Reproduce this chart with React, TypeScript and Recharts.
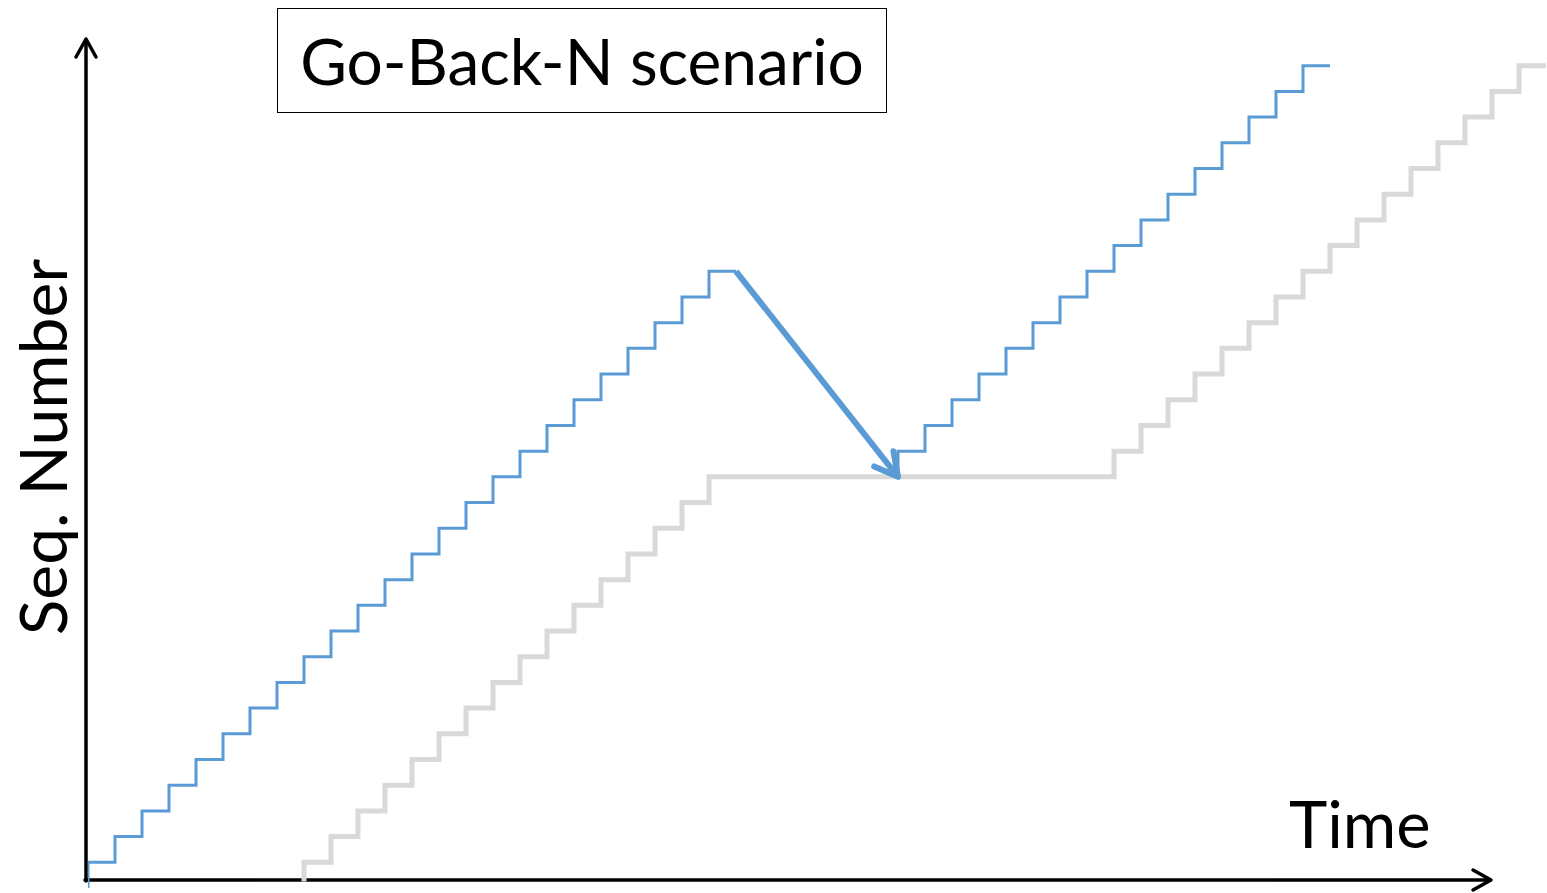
import React from "react";
import { LineChart, Line, XAxis, YAxis } from "recharts";

// time slots (x) and sequence numbers (y)
const senderTimes1 = [0, 1, 2, 3, 4, 5, 6, 7, 8, 9, 10, 11, 12, 13, 14, 15, 16, 17, 18, 19, 20, 21, 22, 23, 24];
const senderSeq1 = [-1, 0, 1, 2, 3, 4, 5, 6, 7, 8, 9, 10, 11, 12, 13, 14, 15, 16, 17, 18, 19, 20, 21, 22, 23];

const timeoutTimes = [24, 30];
const timeoutSeq = [23, 15];

const senderTimes2 = [30, 31, 32, 33, 34, 35, 36, 37, 38, 39, 40, 41, 42, 43, 44, 45, 46];
const senderSeq2 = [15, 16, 17, 18, 19, 20, 21, 22, 23, 24, 25, 26, 27, 28, 29, 30, 31];

const ackTimes = [8, 9, 10, 11, 12, 13, 14, 15, 16, 17, 18, 19, 20, 21, 22, 23, 24, 38, 39, 40, 41, 42, 43, 44, 45, 46, 47, 48, 49, 50, 51, 52, 53, 54];
const ackSeq = [-0.75, 0, 1, 2, 3, 4, 5, 6, 7, 8, 9, 10, 11, 12, 13, 14, 15, 15, 16, 17, 18, 19, 20, 21, 22, 23, 24, 25, 26, 27, 28, 29, 30, 31];

const BLUE = "#5b9bd5";
const GRAY = "#d9d9d9";
const FONT = "Lato, 'Open Sans', sans-serif";

const zip = (ts: number[], ss: number[]) => ts.map((t, i) => ({ t, seq: ss[i] }));

const senderData1 = zip(senderTimes1, senderSeq1);
const timeoutData = zip(timeoutTimes, timeoutSeq);
const senderData2 = zip(senderTimes2, senderSeq2);
const ackData = zip(ackTimes, ackSeq);

const ArrowHead = (props: any) => {
  const { cx, cy, index, points } = props;
  if (index !== 1) return <g key={`ah-${index}`} />;
  let ang = Math.atan2(205, 162);
  if (points && points[0]) ang = Math.atan2(cy - points[0].y, cx - points[0].x);
  const back = ang + Math.PI;
  const len = 26;
  const spread = 0.49;
  const x1 = cx + len * Math.cos(back - spread);
  const y1 = cy + len * Math.sin(back - spread);
  const x2 = cx + len * Math.cos(back + spread);
  const y2 = cy + len * Math.sin(back + spread);
  return (
    <path
      key={`ah-${index}`}
      d={`M${x1},${y1} L${cx},${cy} L${x2},${y2}`}
      fill="none"
      stroke={BLUE}
      strokeWidth={6}
      strokeLinecap="round"
      strokeLinejoin="round"
    />
  );
};

export default function App() {
  return (
    <div style={{ position: "absolute", left: 0, top: 0, width: 1547, height: 893, background: "#fff", fontFamily: FONT }}>
      {/* hand-drawn style axes */}
      <svg width={1547} height={893} style={{ position: "absolute", left: 0, top: 0 }}>
        <g stroke="#000" strokeWidth={3.5} fill="none" strokeLinecap="round" strokeLinejoin="round">
          <line x1={86} y1={881} x2={86} y2={40} />
          <path d="M76,57 L86,39 L96,57" />
          <line x1={85} y1={880} x2={1490} y2={880} />
          <path d="M1473,870 L1491,880 L1473,890" />
        </g>
        <text x={67} y={447} fontSize={66} textAnchor="middle" transform="rotate(-90 67 447)" fill="#000" fontFamily={FONT}>
          Seq. Number
        </text>
        <text x={1289} y={848} fontSize={65} fill="#000" fontFamily={FONT}>
          Time
        </text>
      </svg>

      <div style={{ position: "absolute", left: 0, top: 0 }}>
        <LineChart width={1547} height={893} margin={{ top: 40, right: 1, bottom: 5, left: 88 }}>
          <XAxis type="number" dataKey="t" domain={[0, 54]} hide allowDataOverflow />
          <YAxis type="number" dataKey="seq" domain={[-1, 32]} hide allowDataOverflow />
          <Line data={ackData} dataKey="seq" type="stepBefore" stroke={GRAY} strokeWidth={5} dot={false} activeDot={false} isAnimationActive={false} />
          <Line data={senderData1} dataKey="seq" type="stepBefore" stroke={BLUE} strokeWidth={3} dot={false} activeDot={false} isAnimationActive={false} />
          <Line data={senderData2} dataKey="seq" type="stepBefore" stroke={BLUE} strokeWidth={3} dot={false} activeDot={false} isAnimationActive={false} />
          <Line data={timeoutData} dataKey="seq" type="linear" stroke={BLUE} strokeWidth={6} dot={ArrowHead} activeDot={false} isAnimationActive={false} />
        </LineChart>
      </div>

      <div
        style={{
          position: "absolute",
          left: 277,
          top: 8,
          width: 608,
          height: 103,
          border: "1.5px solid #000",
          display: "flex",
          alignItems: "center",
          justifyContent: "center",
          fontSize: 64,
          lineHeight: 1,
          color: "#000",
          boxSizing: "content-box",
        }}
      >
        Go-Back-N scenario
      </div>
    </div>
  );
}
